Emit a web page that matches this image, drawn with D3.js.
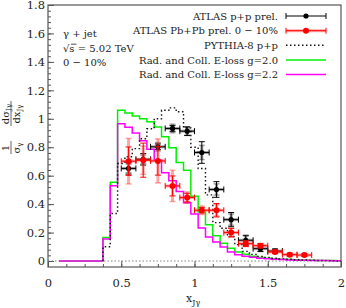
<!DOCTYPE html>
<html>
<head>
<meta charset="utf-8">
<script src="https://cdn.jsdelivr.net/npm/d3@7"></script>
<style>
  body { margin: 0; background: #fff; }
  text { font-family: "DejaVu Serif", "Liberation Serif", serif; fill: #222; }
</style>
</head>
<body>
<div id="chart"></div>
<script>
// histogram bins: lower edge of first bin and bin width
const binStart = 0.075, binWidth = 0.05

// Rad. and Coll. E-loss g=2.0
const green = [0, 0, 0, 0, 0, 0, 0.165, 0.553, 1.06, 1.04, 1.02, 1.0, 0.98, 0.942, 0.873, 0.796,
    0.693, 0.639, 0.455, 0.345, 0.255, 0.177, 0.125, 0.09, 0.063, 0.047, 0.033, 0.025, 0.02,
    0.015, 0.012, 0.01, 0.008, 0.006, 0.005, 0.004, 0.003, 0.003, 0.002]
// Rad. and Coll. E-loss g=2.2
const magenta = [0, 0, 0, 0, 0, 0, 0.155, 0.53, 0.965, 0.94, 0.90, 0.845, 0.785, 0.71, 0.62, 0.565,
    0.488, 0.41, 0.33, 0.232, 0.169, 0.134, 0.099, 0.063, 0.045, 0.033, 0.026, 0.02, 0.016,
    0.012, 0.01, 0.008, 0.006, 0.005, 0.004, 0.003, 0.003, 0.002, 0.002]
// PYTHIA-8 p+p (starts at bin 6)
const pythiaFirstBin = 6
const pythia = [0.10, 0.334, 0.686, 0.733, 0.79, 0.86, 0.93, 1.0, 1.06, 1.077, 1.05, 0.935, 0.80,
    0.65, 0.465, 0.27, 0.23, 0.172, 0.115, 0.068, 0.047, 0.033, 0.026, 0.02, 0.015, 0.012,
    0.009, 0.007, 0.005, 0.004, 0.003, 0.002, 0]

// ATLAS p+p prel.
const ppX = [0.55, 0.65, 0.75, 0.85, 0.95, 1.05, 1.15, 1.25, 1.35, 1.45, 1.55]
const ppY = [0.651, 0.715, 0.803, 0.932, 0.913, 0.763, 0.503, 0.291, 0.146, 0.087, 0.07]
const ppStat = [0.04, 0.04, 0.02, 0.02, 0.03, 0.076, 0.055, 0.05, 0.035, 0.02, 0.015]
const ppSys = [0.03, 0.03, 0.03, 0.03, 0.03, 0.05, 0.04, 0.04, 0.03, 0.02, 0.012]

// ATLAS Pb+Pb prel. 0-10%
const pbX = [0.55, 0.65, 0.75, 0.85, 0.95, 1.05, 1.15, 1.25, 1.35, 1.45, 1.55, 1.65, 1.75]
const pbY = [0.702, 0.709, 0.704, 0.528, 0.446, 0.357, 0.357, 0.2, 0.122, 0.108, 0.064, 0.045, 0.042]
const pbStat = [0.10, 0.12, 0.10, 0.07, 0.03, 0.02, 0.047, 0.03, 0.02, 0.015, 0.012, 0.01, 0.01]
const pbSys = [0.16, 0.10, 0.155, 0.11, 0.04, 0.03, 0.04, 0.03, 0.02, 0.015, 0.01, 0.01, 0.01]
const xHalf = 0.05

const yTicks = [0, 0.2, 0.4, 0.6, 0.8, 1, 1.2, 1.4, 1.6, 1.8]
const xTicks = [0, 0.5, 1, 1.5, 2]

const legendLabels = ["ATLAS p+p prel.", "ATLAS Pb+Pb prel. 0 \u2212 10%", "PYTHIA-8 p+p",
    "Rad. and Coll. E-loss g=2.0", "Rad. and Coll. E-loss g=2.2"]

let margin = { top: 5, right: 5, bottom: 41, left: 48 },
    width = 346 - margin.left - margin.right,
    height = 308 - margin.top - margin.bottom;

const svg = d3.select("#chart")
    .append("svg")
    .attr("width", 346)
    .attr("height", 308)

const g = svg.append("g")
    .attr("transform", `translate(${margin.left},${margin.top})`)

const x = d3.scaleLinear().domain([0, 2]).range([0, width])
const y = d3.scaleLinear().domain([-0.042, 1.8]).range([height, 0])

const axisColor = "#555"
const tickFont = "DejaVu Serif"

// frame
g.append("rect")
    .attr("width", width)
    .attr("height", height)
    .attr("fill", "none")
    .attr("stroke", axisColor)
    .attr("stroke-width", 1.2)

// y axis: ticks inside frame
const yAxis = d3.axisLeft(y).tickValues(yTicks).tickSize(-6).tickPadding(9)
    .tickFormat(d => d3.format("~g")(d))
const yMinor = d3.axisLeft(y).tickValues(d3.range(0, 1.81, 0.04)).tickSize(-3).tickFormat("")
g.append("g").call(yMinor).call(a => a.select(".domain").remove())
    .selectAll("line").attr("stroke", axisColor)
g.append("g").call(yAxis)
    .call(a => a.select(".domain").remove())
    .call(a => a.selectAll("line").attr("stroke", axisColor))
    .call(a => a.selectAll("text").attr("font-size", 11.5)
        .attr("font-family", tickFont).attr("fill", "#444").attr("dx", 6))

// x axis
const xAxis = d3.axisBottom(x).tickValues(xTicks).tickSize(-6).tickPadding(12)
    .tickFormat(d => d3.format("~g")(d))
const xMinor = d3.axisBottom(x).tickValues(d3.range(0, 2.01, 0.125)).tickSize(-3).tickFormat("")
g.append("g").attr("transform", `translate(0,${height})`).call(xMinor)
    .call(a => a.select(".domain").remove())
    .selectAll("line").attr("stroke", axisColor)
g.append("g").attr("transform", `translate(0,${height})`).call(xAxis)
    .call(a => a.select(".domain").remove())
    .call(a => a.selectAll("line").attr("stroke", axisColor))
    .call(a => a.selectAll("text").attr("font-size", 11.5)
        .attr("font-family", tickFont).attr("fill", "#444"))

// dotted zero line
g.append("line")
    .attr("x1", x(0)).attr("x2", x(2))
    .attr("y1", y(0)).attr("y2", y(0))
    .attr("stroke", "#666")
    .attr("stroke-width", 0.8)
    .attr("stroke-dasharray", "1.5,2")

// step path for a histogram
function stepPath(values, firstBin) {
    let p = d3.path()
    values.forEach((v, i) => {
        let lo = binStart + binWidth * (firstBin + i)
        let hi = Math.min(lo + binWidth, 2)
        if (i == 0) p.moveTo(x(lo), y(firstBin > 0 ? 0 : v))
        p.lineTo(x(lo), y(v))
        p.lineTo(x(hi), y(v))
    })
    return p.toString()
}

g.append("path")
    .attr("d", stepPath(green, 0))
    .attr("fill", "none")
    .attr("stroke", "#00f000")
    .attr("stroke-width", 1.5)

g.append("path")
    .attr("d", stepPath(magenta, 0))
    .attr("fill", "none")
    .attr("stroke", "#ff00ff")
    .attr("stroke-width", 1.5)

g.append("path")
    .attr("d", stepPath(pythia, pythiaFirstBin))
    .attr("fill", "none")
    .attr("stroke", "#111")
    .attr("stroke-width", 1.4)
    .attr("stroke-dasharray", "1.5,2.5")

// error bars + points
function drawPoints(xs, ys, stat, sys, col, sysCol, r) {
    const pg = g.append("g")
    xs.forEach((xv, i) => {
        const cx = x(xv), cy = y(ys[i])
        // systematic (light, thick)
        pg.append("line").attr("x1", cx).attr("x2", cx)
            .attr("y1", y(ys[i] - sys[i])).attr("y2", y(ys[i] + sys[i]))
            .attr("stroke", sysCol).attr("stroke-width", 3)
        pg.append("line").attr("x1", x(xv - xHalf)).attr("x2", x(xv + xHalf))
            .attr("y1", cy).attr("y2", cy)
            .attr("stroke", sysCol).attr("stroke-width", 3)
        ;[ys[i] - sys[i], ys[i] + sys[i]].forEach(v => {
            pg.append("line").attr("x1", cx - 3).attr("x2", cx + 3)
                .attr("y1", y(v)).attr("y2", y(v))
                .attr("stroke", sysCol).attr("stroke-width", 1.5)
        })
        // statistical
        pg.append("line").attr("x1", cx).attr("x2", cx)
            .attr("y1", y(ys[i] - stat[i])).attr("y2", y(ys[i] + stat[i]))
            .attr("stroke", col).attr("stroke-width", 1)
        pg.append("line").attr("x1", x(xv - xHalf)).attr("x2", x(xv + xHalf))
            .attr("y1", cy).attr("y2", cy)
            .attr("stroke", col).attr("stroke-width", 1)
        ;[ys[i] - stat[i], ys[i] + stat[i]].forEach(v => {
            pg.append("line").attr("x1", cx - 3).attr("x2", cx + 3)
                .attr("y1", y(v)).attr("y2", y(v))
                .attr("stroke", col).attr("stroke-width", 1)
        })
        ;[xv - xHalf, xv + xHalf].forEach(v => {
            pg.append("line").attr("x1", x(v)).attr("x2", x(v))
                .attr("y1", cy - 3).attr("y2", cy + 3)
                .attr("stroke", col).attr("stroke-width", 1)
        })
        pg.append("circle").attr("cx", cx).attr("cy", cy).attr("r", r).attr("fill", col)
    })
}

drawPoints(ppX, ppY, ppStat, ppSys, "#000", "rgba(0,0,0,0.35)", 2.6)
drawPoints(pbX, pbY, pbStat, pbSys, "#ff0000", "rgba(255,60,60,0.45)", 3)

// legend
const legX1 = 286, legX2 = 326, legTextX = 278
const legY = [16, 30.7, 45.3, 60, 74.5]
legendLabels.forEach((t, i) => {
    svg.append("text")
        .attr("x", legTextX).attr("y", legY[i] + 3.6)
        .attr("text-anchor", "end")
        .attr("font-size", 10)
        .text(t)
})
;[["#000", "rgba(0,0,0,0)", 2.6], ["#ff0000", "rgba(255,60,60,0.45)", 3]].forEach((s, i) => {
    const ly = legY[i]
    svg.append("line").attr("x1", legX1).attr("x2", legX2).attr("y1", ly).attr("y2", ly)
        .attr("stroke", s[1]).attr("stroke-width", 3)
    svg.append("line").attr("x1", legX1).attr("x2", legX2).attr("y1", ly).attr("y2", ly)
        .attr("stroke", s[0]).attr("stroke-width", 1)
    ;[legX1, legX2].forEach(lx => svg.append("line").attr("x1", lx).attr("x2", lx)
        .attr("y1", ly - 3).attr("y2", ly + 3).attr("stroke", s[0]))
    svg.append("circle").attr("cx", (legX1 + legX2) / 2).attr("cy", ly).attr("r", s[2]).attr("fill", s[0])
})
svg.append("line").attr("x1", legX1).attr("x2", legX2).attr("y1", legY[2]).attr("y2", legY[2])
    .attr("stroke", "#111").attr("stroke-width", 1.4).attr("stroke-dasharray", "1.5,2.5")
svg.append("line").attr("x1", legX1).attr("x2", legX2).attr("y1", legY[3]).attr("y2", legY[3])
    .attr("stroke", "#00f000").attr("stroke-width", 1.5)
svg.append("line").attr("x1", legX1).attr("x2", legX2).attr("y1", legY[4]).attr("y2", legY[4])
    .attr("stroke", "#ff00ff").attr("stroke-width", 1.5)

// info text
const info = svg.append("g").attr("font-size", 10)
info.append("text").attr("x", 63).attr("y", 37).text("\u03b3 + jet")
const rs = info.append("text").attr("x", 63).attr("y", 52)
rs.append("tspan").text("\u221as")
rs.append("tspan").text(" = 5.02 TeV")
info.append("line").attr("x1", 71).attr("x2", 76.5).attr("y1", 44.2).attr("y2", 44.2)
    .attr("stroke", "#222").attr("stroke-width", 0.8)
info.append("text").attr("x", 63).attr("y", 66).text("0 \u2212 10%")

// x axis title
const xt = svg.append("text")
    .attr("x", 186).attr("y", 302)
    .attr("font-size", 11)
xt.append("tspan").text("x")
xt.append("tspan").attr("font-size", 8).attr("dy", 3).text("J\u03b3")

// y axis title
const yt = svg.append("g").attr("transform", "translate(11,126) rotate(-90)")
    .attr("font-size", 10)
yt.append("text").attr("x", -22).attr("y", -2).attr("text-anchor", "middle").text("1")
const den1 = yt.append("text").attr("x", -22).attr("y", 8.5).attr("text-anchor", "middle")
den1.append("tspan").text("\u03c3")
den1.append("tspan").attr("font-size", 7).attr("dy", 2).text("\u03b3")
yt.append("line").attr("x1", -28).attr("x2", -15).attr("y1", 0).attr("y2", 0)
    .attr("stroke", "#222").attr("stroke-width", 0.7)
const num2 = yt.append("text").attr("x", 12).attr("y", -2).attr("text-anchor", "middle")
num2.append("tspan").text("d\u03c3")
num2.append("tspan").attr("font-size", 7).attr("dy", 2).text("J\u03b3")
const den2 = yt.append("text").attr("x", 12).attr("y", 8.5).attr("text-anchor", "middle")
den2.append("tspan").text("dx")
den2.append("tspan").attr("font-size", 7).attr("dy", 2).text("J\u03b3")
yt.append("line").attr("x1", 0).attr("x2", 25).attr("y1", 0).attr("y2", 0)
    .attr("stroke", "#222").attr("stroke-width", 0.7)
</script>
</body>
</html>
